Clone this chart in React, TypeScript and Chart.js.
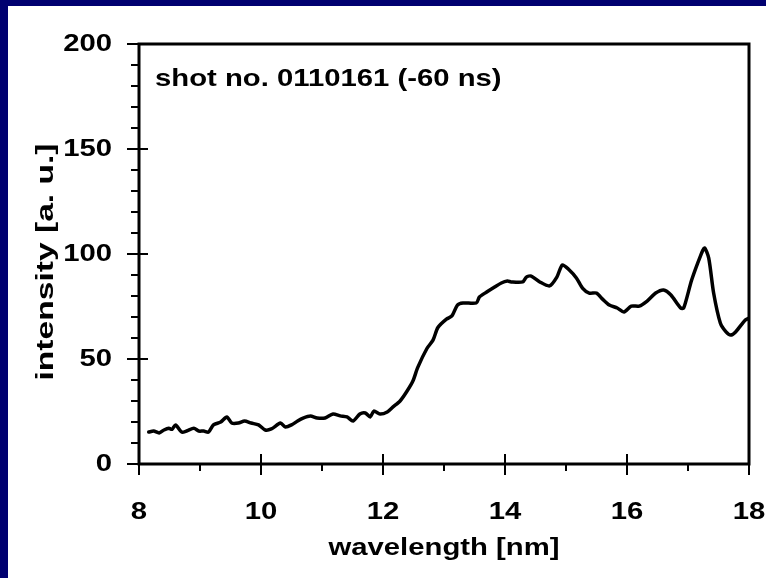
import React, { useEffect, useRef } from "react";
import { Chart, registerables } from "chart.js";

Chart.register(...registerables);

// Spectrum: wavelength (nm) and measured intensity (a. u.)
const wavelength = [
  8.16, 8.24, 8.33, 8.41, 8.49, 8.54, 8.6, 8.7, 8.78, 8.9, 8.98, 9.06, 9.14, 9.22, 9.34, 9.44, 9.52,
  9.63, 9.73, 9.84, 9.96, 10.07, 10.17, 10.32, 10.4, 10.5, 10.6, 10.69, 10.81, 10.92, 11.05, 11.18,
  11.3, 11.41, 11.51, 11.62, 11.71, 11.79, 11.85, 11.95, 12.07, 12.16, 12.28, 12.39, 12.49, 12.57,
  12.72, 12.82, 12.9, 13.04, 13.13, 13.22, 13.31, 13.53, 13.58, 13.7, 13.83, 13.94, 14.04, 14.1,
  14.29, 14.35, 14.43, 14.57, 14.73, 14.85, 14.94, 15.05, 15.17, 15.27, 15.38, 15.5, 15.6, 15.71,
  15.84, 15.95, 16.07, 16.2, 16.33, 16.47, 16.6, 16.72, 16.88, 16.93, 17.06, 17.21, 17.27, 17.34,
  17.42, 17.53, 17.62, 17.7, 17.78, 17.94, 18.0,
];
const intensity = [
  15.2, 15.7, 14.8, 16.2, 17, 16.5, 18.6, 15.2, 15.7, 17, 15.7, 15.7, 15.2, 18.6, 20, 22.4, 19.5,
  19.5, 20.5, 19.5, 18.6, 16.2, 16.7, 19.5, 17.6, 18.6, 20.5, 21.9, 22.9, 21.9, 21.9, 23.8,
  22.9, 22.4, 20.5, 23.8, 24.3, 22.4, 25.2, 23.8, 24.8, 27.1, 30, 34.5, 39.5, 46,
  55, 59, 65, 69, 70.5, 75.7, 76.7, 76.7, 79.5, 81.9, 84.3, 86.2, 87.1, 86.7,
  86.7, 89, 89.5, 86.7, 84.8, 89, 94.8, 92.5, 88.6, 83.8, 81.4, 81.4, 78.5, 75.7,
  74.3, 72.4, 75.2, 75.2, 77.6, 81.4, 82.9, 80.5, 74.3, 74.3, 87.6, 99.5, 102.9, 98,
  81.4, 67.1, 63, 61.4, 62.9, 68.6, 69.5,
];

const xTitle = "wavelength [nm]";
const yTitle = "intensity [a. u.]";
const note = "shot no. 0110161 (-60 ns)";
const xMajorStep = 2;
const yMajorStep = 50;

const FONT = 'bold 24px "Liberation Sans", Arial, sans-serif';
const STRETCH = 1.22;
const STRETCH_VERTICAL = 1.4;

function drawText(
  ctx: CanvasRenderingContext2D,
  text: string,
  x: number,
  y: number,
  align: CanvasTextAlign,
  baseline: CanvasTextBaseline,
  rotate = 0
) {
  ctx.save();
  ctx.translate(x, y);
  if (rotate) {
    ctx.rotate(rotate);
    ctx.scale(STRETCH_VERTICAL, 1);
  } else {
    ctx.scale(STRETCH, 1);
  }
  ctx.font = FONT;
  ctx.fillStyle = "#000";
  ctx.textAlign = align;
  ctx.textBaseline = baseline;
  ctx.fillText(text, 0, 0);
  ctx.restore();
}

// Frame, crossing major ticks, outward minor ticks and all axis text
const framePlugin = {
  id: "frame",
  afterDraw(chart: any) {
    const { ctx, chartArea: a } = chart;
    const xs = chart.scales.x;
    const ys = chart.scales.y;
    ctx.save();
    ctx.strokeStyle = "#000";
    ctx.lineCap = "butt";

    ctx.lineWidth = 2;
    for (const t of ys.ticks) {
      const v = t.value;
      const py = ys.getPixelForValue(v);
      const major = Math.abs(v % yMajorStep) < 1e-6;
      ctx.beginPath();
      ctx.moveTo(a.left - (major ? 12 : 8), py);
      ctx.lineTo(a.left + (major ? 9 : 0), py);
      ctx.stroke();
      if (major) drawText(ctx, String(v), a.left - 27, py, "right", "middle");
    }
    for (const t of xs.ticks) {
      const v = t.value;
      const px = xs.getPixelForValue(v);
      const major = Math.abs(v % xMajorStep) < 1e-6;
      ctx.beginPath();
      ctx.moveTo(px, a.bottom + (major ? 11 : 7));
      ctx.lineTo(px, a.bottom - (major ? 10 : 0));
      ctx.stroke();
      if (major) drawText(ctx, String(v), px, a.bottom + 48, "center", "middle");
    }

    ctx.lineWidth = 3;
    ctx.strokeRect(a.left, a.top, a.right - a.left, a.bottom - a.top);

    drawText(ctx, xTitle, (a.left + a.right) / 2, a.bottom + 84, "center", "middle");
    drawText(ctx, yTitle, 38, (a.top + a.bottom) / 2 + 8, "center", "middle", -Math.PI / 2);
    drawText(ctx, note, a.left + 16, a.top + 42, "left", "alphabetic");
    ctx.restore();
  },
};

export default function App() {
  const canvasRef = useRef<HTMLCanvasElement | null>(null);

  useEffect(() => {
    if (!canvasRef.current) return;
    const points = wavelength.map((w, i) => ({ x: w, y: intensity[i] }));
    const chart = new Chart(canvasRef.current, {
      type: "line",
      data: {
        datasets: [
          {
            data: points,
            borderColor: "#000",
            borderWidth: 3.5,
            pointRadius: 0,
            tension: 0.25,
            borderJoinStyle: "round",
            borderCapStyle: "round",
            fill: false,
          },
        ],
      },
      options: {
        responsive: false,
        animation: false,
        events: [],
        layout: { padding: { left: 0, right: 17, top: 38, bottom: 0 } },
        plugins: { legend: { display: false }, tooltip: { enabled: false }, title: { display: false } },
        scales: {
          x: {
            type: "linear",
            min: 8,
            max: 18,
            ticks: { display: false, stepSize: 1 },
            grid: { display: false },
            border: { display: false },
            afterFit: (s: any) => {
              s.height = 114;
            },
          },
          y: {
            type: "linear",
            min: 0,
            max: 200,
            ticks: { display: false, stepSize: 10 },
            grid: { display: false },
            border: { display: false },
            afterFit: (s: any) => {
              s.width = 131;
            },
          },
        },
      },
      plugins: [framePlugin],
    });
    return () => chart.destroy();
  }, []);

  return (
    <div
      style={{
        position: "fixed",
        left: 0,
        top: 0,
        width: 766,
        height: 578,
        background: "#000070",
        overflow: "hidden",
      }}
    >
      <div
        style={{
          position: "absolute",
          left: 8,
          top: 6,
          width: 758,
          height: 572,
          background: "#fff",
        }}
      >
        <canvas ref={canvasRef} width={758} height={572} style={{ display: "block" }} />
      </div>
    </div>
  );
}
